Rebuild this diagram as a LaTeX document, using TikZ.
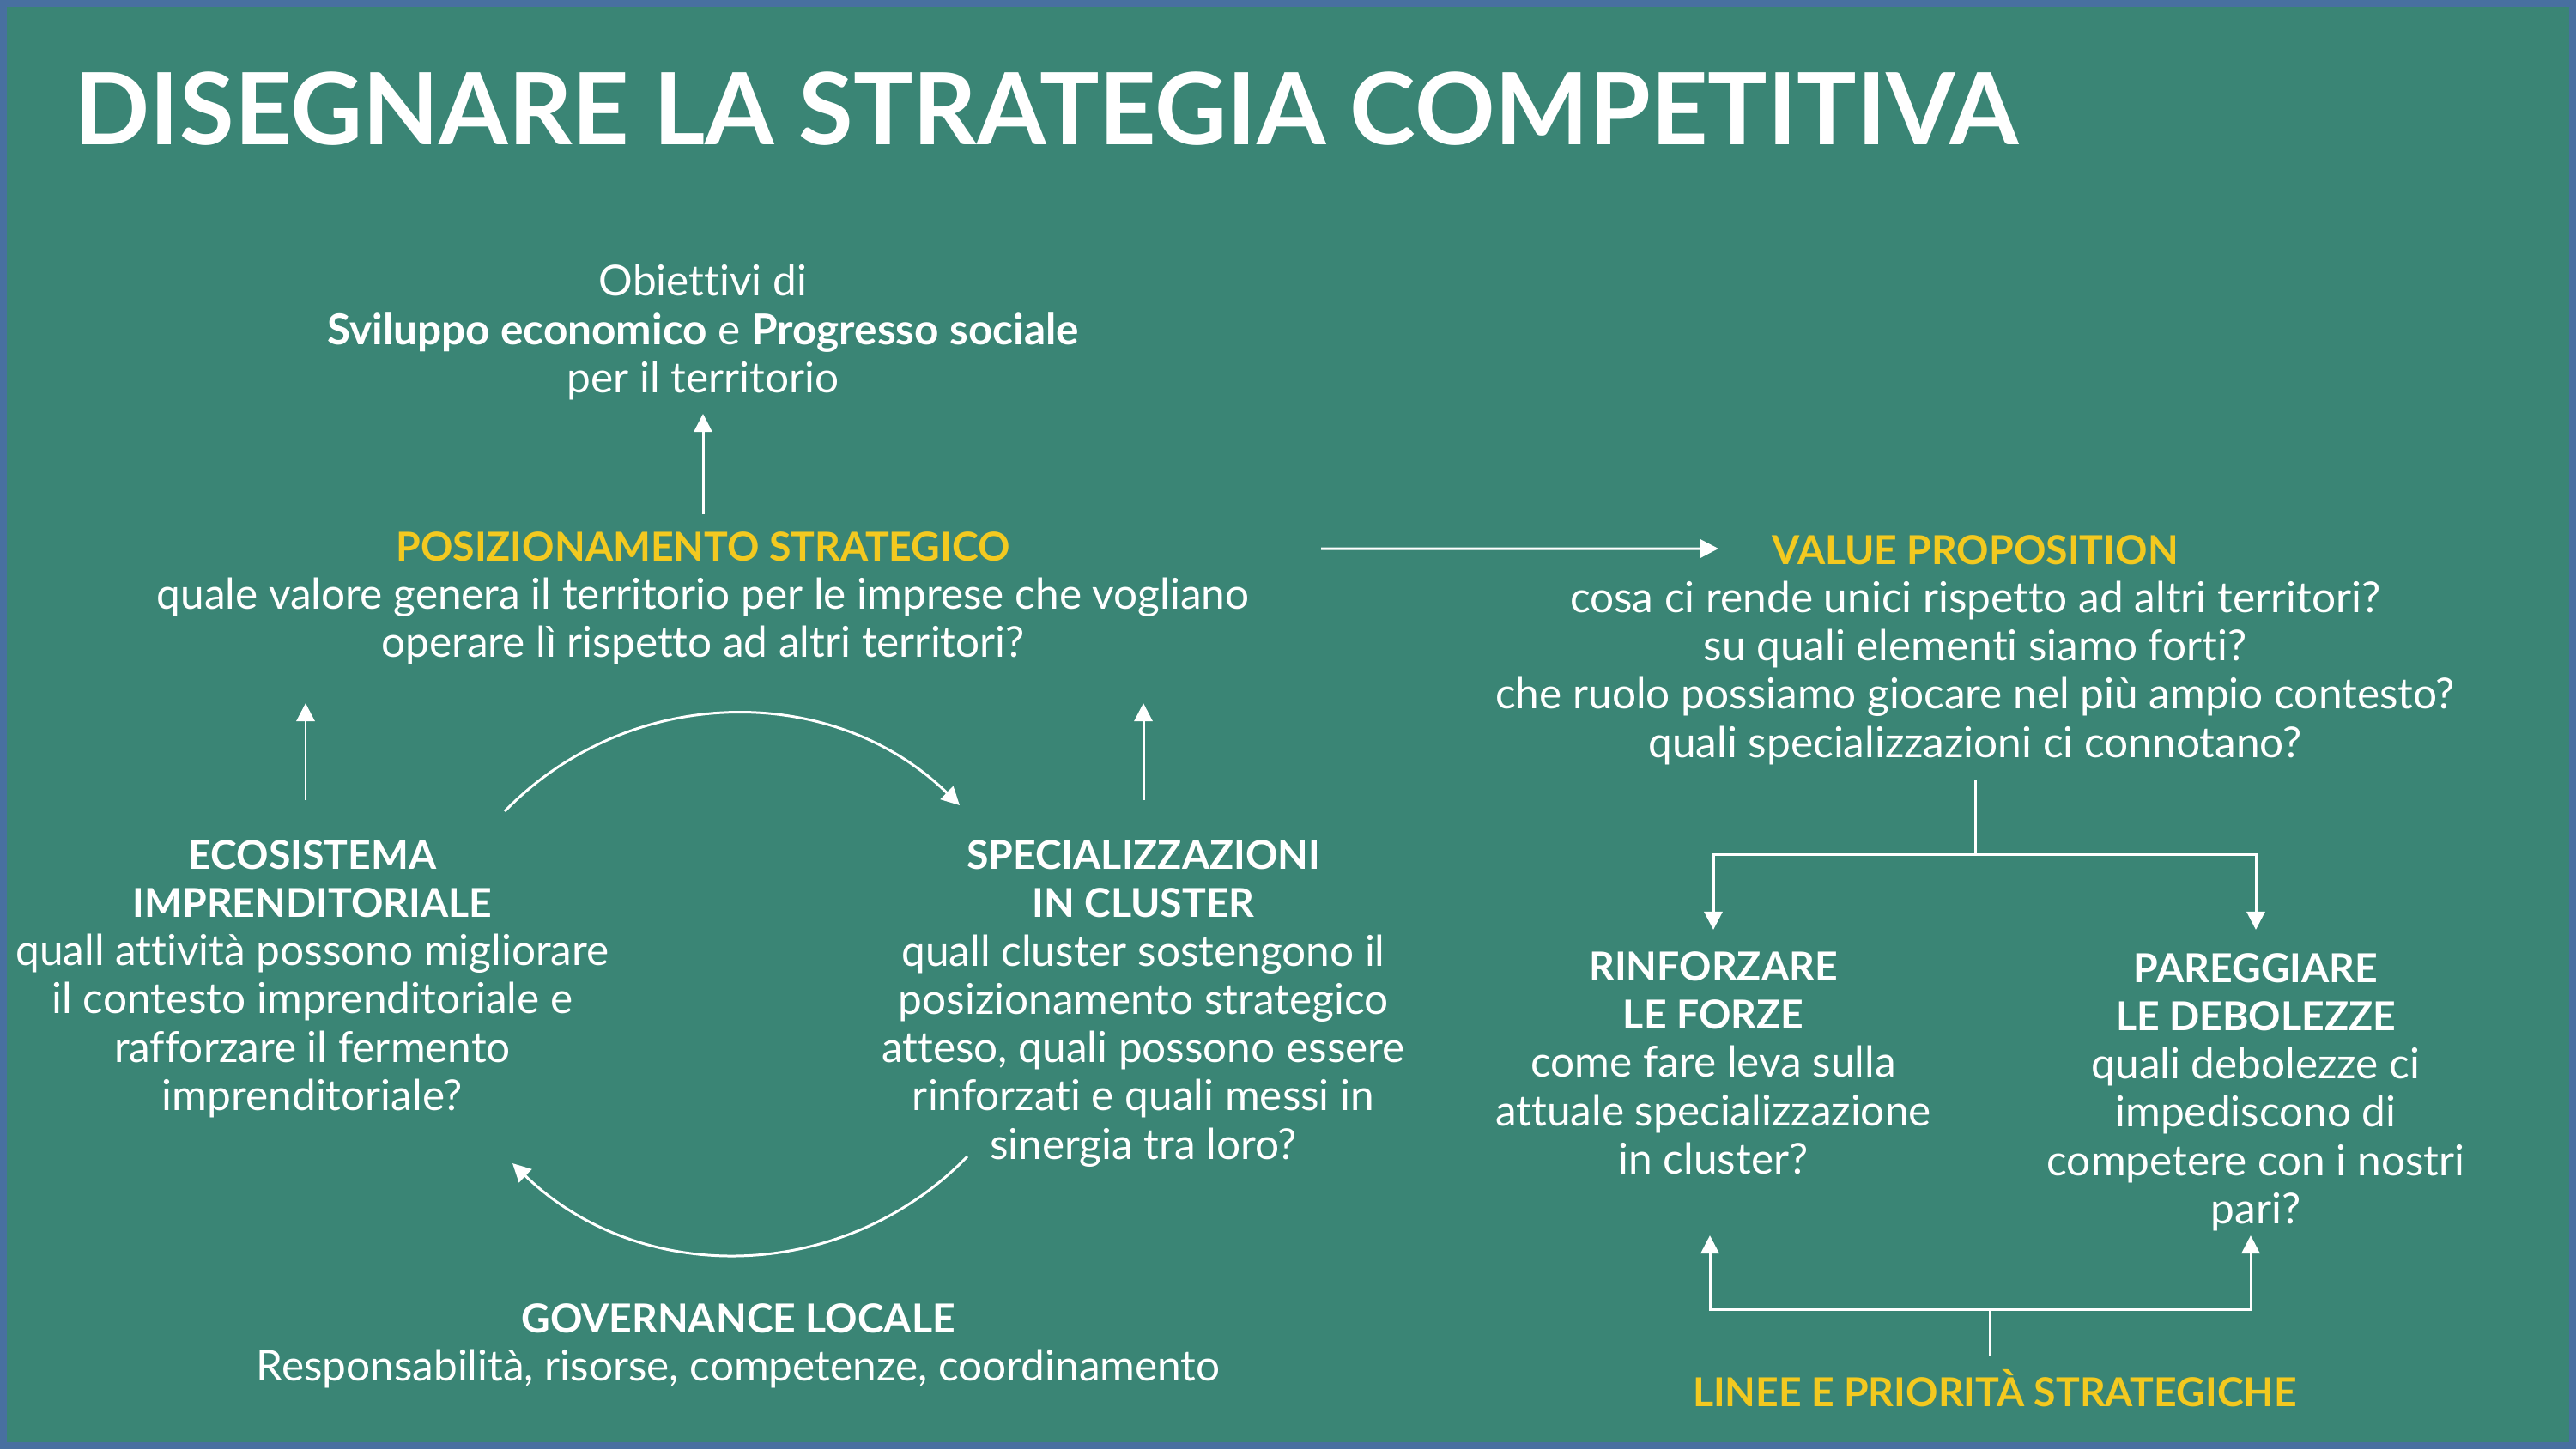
\documentclass[tikz,border=0pt]{standalone}
\usepackage{fontspec}
\setmainfont{Lato}[Ligatures=NoCommon]
\usetikzlibrary{arrows.meta, positioning, calc}
\definecolor{bgteal}{RGB}{58,133,117}
\definecolor{frameblue}{RGB}{72,112,160}
\definecolor{headyellow}{RGB}{243,201,32}
\newcommand{\whead}[1]{{\fontsize{13.2}{16}\selectfont\bfseries #1}}
\newcommand{\yhead}[1]{\whead{\textcolor{headyellow}{#1}}}

\begin{document}
\begin{tikzpicture}[
  txt/.style={text=white, align=center, inner sep=2pt, font=\fontsize{14.1}{16}\selectfont},
  arr/.style={-{Triangle[length=6pt, width=6pt]}, white, line width=0.85pt},
  ln/.style={white, line width=0.85pt},
]
  % background and frame
  \fill[bgteal] (0,0) rectangle (30.01,-16.88);
  \draw[frameblue, line width=0.08cm] (0.04,-0.04) rectangle (29.97,-16.84);
  \useasboundingbox (0,0) rectangle (30.01,-16.88);

  \node[anchor=base west, text=white, inner sep=0pt, font=\fontsize{33}{38}\selectfont\bfseries] (title) at (0.86,-1.68) {DISEGNARE LA STRATEGIA COMPETITIVA};

  % top block
  \node[txt] (goal) at (8.19,-3.87) {Obiettivi di\\ \textbf{Sviluppo economico} e \textbf{Progresso sociale}\\ per il territorio};
  \node[txt] (pos) at (8.19,-6.97) {\yhead{POSIZIONAMENTO STRATEGICO}\\ quale valore genera il territorio per le imprese che vogliano\\ operare lì rispetto ad altri territori?};
  \node[txt] (vp) at (23.01,-7.57) {\yhead{VALUE PROPOSITION}\\ cosa ci rende unici rispetto ad altri territori?\\ su quali elementi siamo forti?\\ che ruolo possiamo giocare nel più ampio contesto?\\ quali specializzazioni ci connotano?};

  % cycle
  \node[txt] (eco) at (3.64,-11.40) {\whead{ECOSISTEMA}\\ \whead{IMPRENDITORIALE}\\ quall attività possono migliorare\\ il contesto imprenditoriale e\\ rafforzare il fermento\\ imprenditoriale?};
  \node[txt] (spec) at (13.32,-11.69) {\whead{SPECIALIZZAZIONI}\\ \whead{IN CLUSTER}\\ quall cluster sostengono il\\ posizionamento strategico\\ atteso, quali possono essere\\ rinforzati e quali messi in\\ sinergia tra loro?};
  \node[txt] (gov) at (8.60,-15.68) {\whead{GOVERNANCE LOCALE}\\ Responsabilità, risorse, competenze, coordinamento};

  % right side
  \node[txt] (rinf) at (19.96,-12.38) {\whead{RINFORZARE}\\ \whead{LE FORZE}\\ come fare leva sulla\\ attuale specializzazione\\ in cluster?};
  \node[txt] (pareg) at (26.28,-12.72) {\whead{PAREGGIARE}\\ \whead{LE DEBOLEZZE}\\ quali debolezze ci\\ impediscono di\\ competere con i nostri\\ pari?};
  \node[txt] (linee) at (23.24,-16.17) {\yhead{LINEE E PRIORITÀ STRATEGICHE}};

  \draw[arr] ([yshift=0.98cm]pos.center) -- ([yshift=-0.95cm]goal.center);
  \draw[arr] ([shift={(7.20,0.58)}]pos.center) -- ([shift={(-2.99,1.18)}]vp.center);
  \draw[arr] ([shift={(-0.08,2.08)}]eco.center) -- ([shift={(-0.08,-1.22)}]eco.center |- pos.center);
  \draw[arr] ([yshift=2.37cm]spec.center) -- ([yshift=-1.22cm]spec.center |- pos.center);
  \draw[arr] ([shift={(2.24,1.95)}]eco.center) to[bend left=45] ([shift={(-2.14,2.31)}]spec.center);
  \draw[arr] ([shift={(-2.05,-1.78)}]spec.center) to[bend left=45] ([shift={(2.33,-2.15)}]eco.center);

  \draw[ln] ([yshift=-1.52cm]vp.center) -- ([yshift=-2.38cm]vp.center) coordinate (vpfork);
  \draw[arr] (vpfork) -| ([yshift=1.55cm]rinf.center);
  \draw[arr] (vpfork) -| ([yshift=1.89cm]pareg.center);

  \draw[ln] ([shift={(-0.06,0.38)}]linee.center) -- ([shift={(-0.06,0.92)}]linee.center) coordinate (lfork);
  \draw[arr] (lfork) -| ([shift={(-0.04,-2.01)}]rinf.center);
  \draw[arr] (lfork) -| ([shift={(-0.06,-1.67)}]pareg.center);
\end{tikzpicture}
\end{document}
